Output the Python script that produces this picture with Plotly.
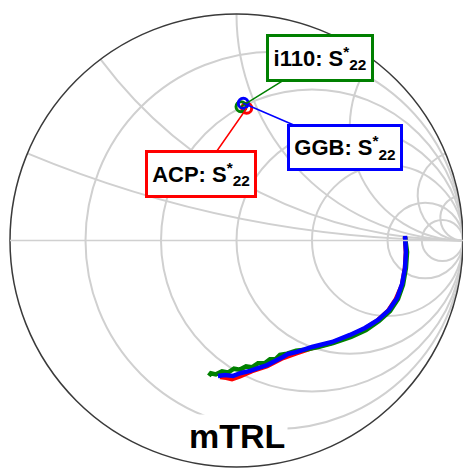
import numpy as np
import plotly.graph_objects as go

# Measured S22 traces (reflection coefficient, real / imaginary parts)
acp_re = [0.744, 0.748, 0.744, 0.731, 0.704, 0.669, 0.620, 0.563, 0.497, 0.417, 0.333,
          0.267, 0.205, 0.135, 0.068, 0.015, -0.020, -0.046, -0.073]
acp_im = [0.015, -0.051, -0.121, -0.196, -0.258, -0.311, -0.355, -0.391, -0.422, -0.453, -0.475,
          -0.497, -0.519, -0.555, -0.577, -0.600, -0.612, -0.606, -0.603]

i110_re = [0.744, 0.753, 0.748, 0.735, 0.713, 0.678, 0.629, 0.572, 0.506, 0.426, 0.360,
           0.302, 0.263, 0.223, 0.192, 0.174, 0.148, 0.126, 0.095, 0.068, 0.042,
           0.015, -0.011, -0.038, -0.064, -0.091, -0.113, -0.122]
i110_im = [0.015, -0.051, -0.121, -0.196, -0.258, -0.311, -0.355, -0.395, -0.426, -0.453, -0.470,
           -0.482, -0.487, -0.500, -0.505, -0.523, -0.524, -0.541, -0.542, -0.560, -0.556,
           -0.570, -0.566, -0.583, -0.578, -0.591, -0.586, -0.598]

ggb_re = [0.744, 0.748, 0.744, 0.731, 0.709, 0.673, 0.625, 0.567, 0.501, 0.422, 0.333,
          0.267, 0.227, 0.205, 0.170, 0.135, 0.095, 0.060, 0.020, -0.015, -0.051, -0.082]
ggb_im = [0.020, -0.051, -0.121, -0.192, -0.254, -0.307, -0.351, -0.386, -0.417, -0.448, -0.470,
          -0.492, -0.501, -0.514, -0.532, -0.550, -0.563, -0.576, -0.585, -0.598, -0.594, -0.598]

# Conjugate S22 points
labels = ["ACP", "i110", "GGB"]
colors = ["#ff0000", "#008000", "#0000ff"]
s22c_re = [0.045, 0.020, 0.030]
s22c_im = [0.584, 0.591, 0.606]

# label box offsets (pixels) and sizes
box_dx = [-46, 79, 102]
box_dy = [66, -49, 44]
box_w = [100, 96, 104]
box_h = [36, 36, 35]

title_text = "mTRL"

W, H = 463, 469
ML, MR, MT, MB = 10, 0, 14, 2


def gamma_to_z(re, im):
    g = np.asarray(re) + 1j * np.asarray(im)
    z = (1 + g) / (1 - g)
    return z.real, z.imag


fig = go.Figure()

curves = [(acp_re, acp_im), (i110_re, i110_im), (ggb_re, ggb_im)]
for (re, im), col in zip(curves, colors):
    zr, zi = gamma_to_z(re, im)
    fig.add_trace(go.Scattersmith(real=zr, imag=zi, mode="lines",
                                  line=dict(color=col, width=4.5),
                                  showlegend=False, hoverinfo="skip"))

for i, col in enumerate(colors):
    zr, zi = gamma_to_z([s22c_re[i]], [s22c_im[i]])
    fig.add_trace(go.Scattersmith(real=zr, imag=zi, mode="markers",
                                  marker=dict(symbol="circle-open", size=10, color=col,
                                              line=dict(color=col, width=3)),
                                  showlegend=False, hoverinfo="skip"))

annotations = []
for i, col in enumerate(colors):
    annotations.append(dict(
        x=0.5 + 0.5 * s22c_re[i], y=0.5 + 0.5 * s22c_im[i], xref="paper", yref="paper",
        text="<b>%s: S<sup>*</sup><sub>22</sub></b>" % labels[i],
        showarrow=True, arrowhead=0, arrowwidth=1.5, arrowcolor=col, standoff=0,
        ax=box_dx[i], ay=box_dy[i], axref="pixel", ayref="pixel",
        bordercolor=col, borderwidth=3, borderpad=3, bgcolor="white",
        width=box_w[i], height=box_h[i],
        font=dict(family="Liberation Sans, Arial", size=22, color="black"),
    ))

annotations.append(dict(
    x=0.5, y=0.068, xref="paper", yref="paper", text="<b>%s</b>" % title_text,
    xanchor="center", yanchor="middle",
    showarrow=False, bgcolor="white", borderpad=2,
    font=dict(family="Liberation Sans, Arial", size=34, color="black"),
))

grid_vals = [0.2, 0.5, 1, 2, 5, 10]
fig.update_layout(
    width=W, height=H, autosize=False,
    margin=dict(l=ML, r=MR, t=MT, b=MB, pad=0),
    paper_bgcolor="white",
    smith=dict(
        domain=dict(x=[0, 1], y=[0, 1]),
        bgcolor="white",
        realaxis=dict(tickvals=grid_vals, showticklabels=False, ticks="",
                      gridcolor="#d0d0d0", gridwidth=1.5,
                      showline=True, linecolor="#d0d0d0", linewidth=1.5),
        imaginaryaxis=dict(tickvals=grid_vals, showticklabels=False, ticks="",
                           gridcolor="#d0d0d0", gridwidth=1.5,
                           showline=True, linecolor="#3a3a3a", linewidth=1.5),
    ),
    annotations=annotations,
)

fig.write_html("out.html")
